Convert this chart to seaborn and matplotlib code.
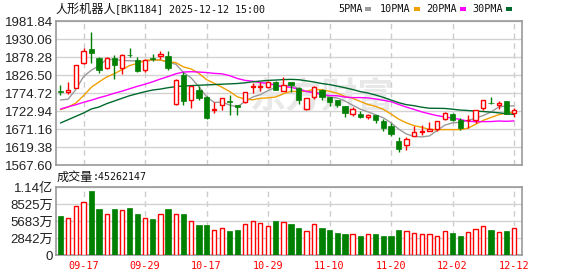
import matplotlib
matplotlib.use("Agg")
import matplotlib.pyplot as plt
from matplotlib.patches import Rectangle
import numpy as np
import pandas as pd
import seaborn as sns

# ---------------- data ----------------
opens = [1781, 1779, 1789, 1860, 1902, 1875, 1847, 1875, 1846, 1885,
         1870, 1840, 1875, 1882, 1881, 1744, 1827, 1755, 1782, 1763,
         1726, 1740, 1752, 1739, 1748, 1792, 1792, 1792, 1807, 1781,
         1805, 1790, 1729, 1763, 1782, 1763, 1756, 1737, 1714, 1715,
         1705, 1710, 1695, 1681, 1638, 1624, 1650, 1662, 1664, 1671,
         1700, 1714, 1698, 1697, 1696, 1731, 1746, 1739, 1751, 1717]
highs = [1798, 1805, 1856, 1903, 1949, 1878, 1877, 1885, 1886, 1904,
         1878, 1873, 1888, 1896, 1896, 1814, 1834, 1796, 1794, 1765,
         1748, 1759, 1770, 1739, 1778, 1804, 1805, 1810, 1810, 1821,
         1805, 1791, 1759, 1796, 1786, 1763, 1756, 1738, 1734, 1722,
         1715, 1712, 1700, 1687, 1648, 1647, 1679, 1683, 1691, 1695,
         1721, 1716, 1704, 1710, 1727, 1756, 1763, 1751, 1751, 1732]
lows = [1770, 1773, 1788, 1858, 1860, 1831, 1845, 1815, 1829, 1877,
        1836, 1834, 1867, 1873, 1840, 1741, 1741, 1733, 1756, 1700,
        1718, 1726, 1711, 1712, 1745, 1775, 1780, 1789, 1782, 1780,
        1778, 1742, 1727, 1757, 1756, 1738, 1735, 1705, 1708, 1704,
        1701, 1689, 1666, 1652, 1604, 1611, 1650, 1655, 1664, 1665,
        1696, 1694, 1669, 1674, 1689, 1727, 1742, 1730, 1713, 1705]
closes = [1777, 1784, 1855, 1896, 1889, 1841, 1875, 1854, 1884, 1883,
          1837, 1870, 1873, 1887, 1846, 1812, 1751, 1795, 1760, 1702,
          1729, 1759, 1750, 1735, 1777, 1794, 1795, 1807, 1784, 1797,
          1797, 1754, 1759, 1791, 1762, 1749, 1741, 1716, 1730, 1705,
          1711, 1698, 1673, 1657, 1615, 1641, 1663, 1666, 1671, 1694,
          1717, 1696, 1674, 1697, 1727, 1756, 1745, 1746, 1714, 1727]
# volume in 万 (10k shares)
vol_wan = [6488, 6266, 8152, 8817, 10647, 7653, 6820, 7653, 7487, 7819,
           6876, 6155, 5989, 6820, 7653, 6876, 6876, 5656, 4991, 4991,
           4159, 4492, 4048, 4215, 5157, 5656, 5324, 4825, 5656, 5490,
           5157, 4492, 3992, 5157, 4492, 4159, 3660, 3493, 3493, 3161,
           3493, 3493, 3161, 3161, 4159, 3992, 3660, 3493, 3493, 3161,
           3992, 3660, 3161, 3826, 4326, 4825, 4159, 3826, 3992, 4526.2147]

# moving-average values before the window is complete
ma5_head = [1754.6, 1757, 1785, 1822]
ma10_head = [1726.8, 1734.4, 1746, 1767, 1791, 1806.4, 1820.7, 1830.3, 1841.8]
ma20_head = [1728.7, 1735, 1741, 1748, 1754, 1761, 1767, 1774, 1780, 1787,
             1794, 1800, 1807, 1815, 1822, 1830, 1835, 1836, 1835]
ma30_head = [1688.4, 1698, 1707.6, 1717.2, 1728.7, 1734.4, 1744, 1751.7, 1759.4, 1767,
             1772.8, 1778.5, 1783.3, 1786, 1790, 1793, 1795, 1796, 1797, 1798,
             1799, 1800, 1801, 1802, 1804, 1807, 1809, 1811, 1812]

xtick_idx = [3, 11, 19, 27, 35, 43, 51, 59]
xtick_labels = ["09-17", "09-29", "10-17", "10-29", "11-10", "11-20", "12-02", "12-12"]
price_ticks = [1567.60, 1619.38, 1671.16, 1722.94, 1774.72, 1826.50, 1878.28, 1930.06, 1981.84]
price_tick_labels = ["1567.60", "1619.38", "1671.16", "1722.94", "1774.72",
                     "1826.50", "1878.28", "1930.06", "1981.84"]
vol_ticks_wan = [0, 2841.6, 5683.2, 8524.8, 11366.4]
vol_tick_labels = ["0", "2842万", "5683万", "8525万", "1.14亿"]
title_name = "人形机器人"
title_rest = "[BK1184] 2025-12-12 15:00"
vol_title = "成交量"
last_volume = "45262147"
ma_names = ["5PMA", "10PMA", "20PMA", "30PMA"]
ma_colors = ["#9a9a9a", "#f0a000", "#ff00ff", "#006a2e"]
watermark = "东方财富"

# ---------------- style ----------------
sns.set_theme(style="white")
plt.rcParams["font.family"] = ["DejaVu Sans", "Noto Sans CJK SC"]

RED = "#ff0000"
GREEN = "#008000"
W, H = 578, 276

fig = plt.figure(figsize=(W / 100, H / 100), dpi=100)
fig.patch.set_facecolor("white")
ax = fig.add_axes([56 / W, 1 - 165 / H, 466 / W, 144 / H])
axv = fig.add_axes([56 / W, 1 - 255 / H, 466 / W, 68 / H])

n = len(closes)
idx = np.arange(n)
o = np.array(opens, float)
c = np.array(closes, float)
h = np.array(highs, float)
l = np.array(lows, float)
prev = np.r_[c[0], c[:-1]]
up = (c > o) | ((c == o) & (c >= prev))
dn = ~up

# ---------------- candles ----------------
top = np.maximum(o, c)
bot = np.minimum(o, c)
ax.vlines(idx[up], h[up], top[up], color=RED, lw=1, zorder=3)
ax.vlines(idx[up], bot[up], l[up], color=RED, lw=1, zorder=3)
ax.vlines(idx[dn], l[dn], h[dn], color=GREEN, lw=1, zorder=3)
ax.bar(idx[up], np.maximum(top[up] - bot[up], 0.6), bottom=bot[up], width=0.55,
       facecolor="white", edgecolor=RED, linewidth=1, zorder=4)
ax.bar(idx[dn], np.maximum(top[dn] - bot[dn], 1.0), bottom=bot[dn], width=0.7,
       facecolor=GREEN, edgecolor=GREEN, linewidth=0.5, zorder=4)

# ---------------- moving averages ----------------
close_s = pd.Series(c)
def moving_avg(nwin, head):
    m = close_s.rolling(nwin).mean()
    m.iloc[:nwin - 1] = head
    return m.values

ma_df = pd.DataFrame({
    "idx": np.tile(idx, 4),
    "ma": np.concatenate([moving_avg(5, ma5_head), moving_avg(10, ma10_head),
                          moving_avg(20, ma20_head), moving_avg(30, ma30_head)]),
    "name": np.repeat(ma_names, n),
})
sns.lineplot(data=ma_df, x="idx", y="ma", hue="name", palette=dict(zip(ma_names, ma_colors)),
             linewidth=1, legend=False, ax=ax, zorder=2)

# watermark
ax.text(34.0, 1762, watermark, ha="center", va="center", fontsize=26,
        family=["Noto Sans CJK SC"], fontweight="bold", color="#e8e8e8", zorder=1)

# ---------------- volume ----------------
vol = np.array(vol_wan) * 1e4
axv.bar(idx[up], vol[up], width=0.55, facecolor="white", edgecolor=RED, linewidth=1, zorder=3)
axv.bar(idx[dn], vol[dn], width=0.7, facecolor=GREEN, edgecolor=GREEN, linewidth=0.5, zorder=3)

# ---------------- axes styling ----------------
xlim = (-0.585, 60.04)
for a in (ax, axv):
    a.set_xlim(*xlim)
    a.set_facecolor("white")
    a.set_xlabel("")
    a.set_ylabel("")
    a.set_axisbelow(True)
    for s in a.spines.values():
        s.set_color("#999999")
        s.set_linewidth(1.2)
    a.set_xticks(xtick_idx)
    a.xaxis.grid(True, color="#cccccc", linestyle=(0, (4, 3)), linewidth=1)
    a.yaxis.grid(True, color="#d2d2d2", linestyle="-", linewidth=1)
    a.tick_params(axis="both", length=0)

ax.set_ylim(price_ticks[0], price_ticks[-1])
ax.set_yticks(price_ticks)
ax.set_yticklabels(price_tick_labels, family=["Liberation Sans"], fontsize=9.5, color="#222222")
ax.tick_params(axis="y", pad=2.2)
ax.set_xticklabels([])

axv.set_ylim(0, vol_ticks_wan[-1] * 1e4)
axv.set_yticks(np.array(vol_ticks_wan) * 1e4)
axv.set_yticklabels(vol_tick_labels, family=["Liberation Sans", "Noto Sans CJK SC"],
                    fontsize=9.5, color="#222222")
axv.tick_params(axis="y", pad=2.2)
axv.set_xticklabels(xtick_labels, family=["DejaVu Sans Mono"], fontsize=7.3, color=RED)
axv.tick_params(axis="x", pad=4.5)

# ---------------- header texts ----------------
fig.text(55 / W, 1 - 9 / H, title_name, ha="left", va="center", fontsize=8.7,
         family=["Noto Sans CJK SC"], color="#111111")
fig.text(115 / W, 1 - 9 / H, title_rest, ha="left", va="center", fontsize=7.2,
         family=["DejaVu Sans Mono"], color="#111111")
fig.text(57 / W, 1 - 177 / H, vol_title, ha="left", va="center", fontsize=8.7,
         family=["Noto Sans CJK SC"], color="#111111")
fig.text(93 / W, 1 - 177 / H, ":" + last_volume, ha="left", va="center", fontsize=7.2,
         family=["DejaVu Sans Mono"], color="#111111")

# legend: name followed by small coloured block
leg_x = [338, 380, 426, 472]
for name, col, x0 in zip(ma_names, ma_colors, leg_x):
    t = fig.text(x0 / W, 1 - 9 / H, name, ha="left", va="center", fontsize=7.3,
                 family=["DejaVu Sans Mono"], color="#111111")
    x_block = x0 + 6.1 * len(name) + 3
    fig.patches.append(Rectangle((x_block / W, 1 - 11 / H), 6 / W, 4 / H,
                                 transform=fig.transFigure, facecolor=col,
                                 edgecolor="none", figure=fig))

fig.savefig("out.png", dpi=100, facecolor="white")
